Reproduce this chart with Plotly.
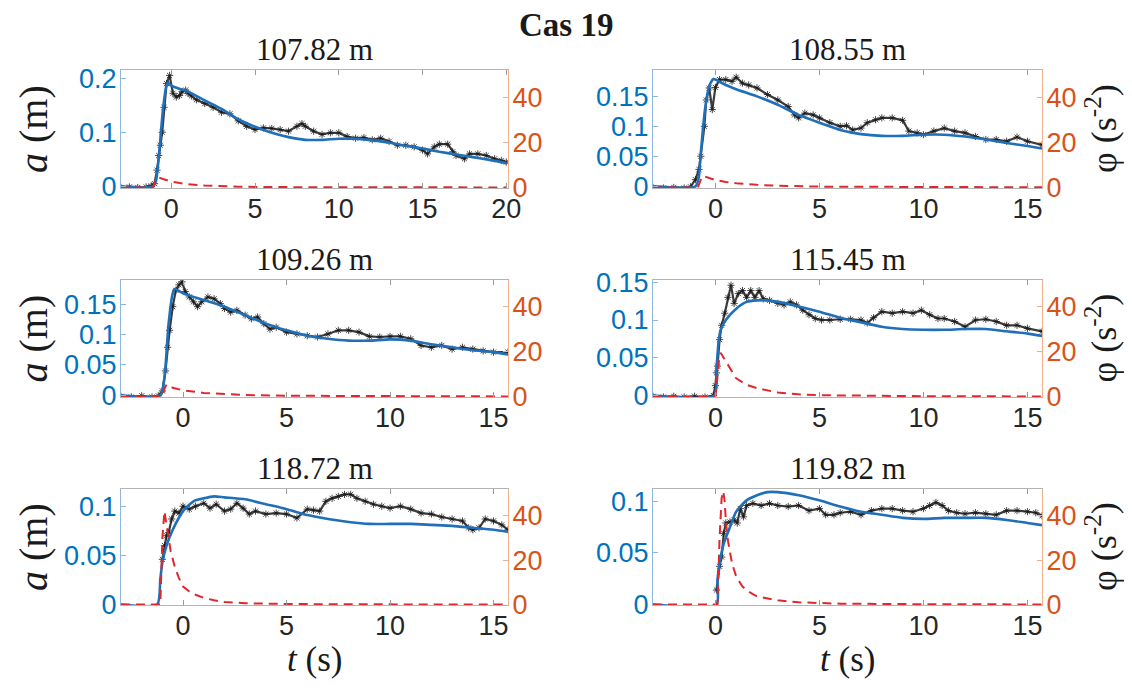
import plotly.graph_objects as go

W, H = 1132, 688
OFF = 8  # page body margin of the html page
FW, FH = W - OFF, H - OFF

titles = ["107.82 m", "108.55 m", "109.26 m", "115.45 m", "118.72 m", "119.82 m"]
main_title = "Cas 19"
x_ticks_1 = [0, 5, 10, 15, 20]
x_ticks = [0, 5, 10, 15]
phi_ticks = [0, 20, 40]

# ---------------- Panel 1 : 107.82 m ----------------
t_obs_1 = [-3, -2.5, -2, -1.5, -1.2, -1.0, -0.85, -0.75, -0.65, -0.54, -0.43, -0.28, -0.1, 0.1, 0.3, 0.5,
           0.65, 0.86, 1.0, 1.2, 1.5, 2, 2.5, 3, 3.5, 4, 4.5, 5, 5.5, 6, 6.5, 7, 7.5, 7.8, 8, 8.5, 9, 9.5,
           10, 10.5, 11, 11.5, 12, 12.5, 13, 13.5, 14, 14.5, 15, 15.3, 15.7, 16, 16.5, 16.8, 17, 17.5,
           17.8, 18.3, 18.8, 19.3, 19.7, 20]
a_obs_1 = [-0.002, -0.001, -0.002, -0.001, 0.001, 0.005, 0.03, 0.057, 0.076, 0.10, 0.146, 0.19, 0.205,
           0.172, 0.165, 0.168, 0.175, 0.178, 0.172, 0.167, 0.16, 0.153, 0.146, 0.137, 0.134, 0.121, 0.111,
           0.105, 0.108, 0.107, 0.105, 0.102, 0.111, 0.116, 0.111, 0.102, 0.096, 0.099, 0.099, 0.092, 0.089,
           0.09, 0.086, 0.089, 0.083, 0.076, 0.076, 0.073, 0.067, 0.06, 0.073, 0.078, 0.078, 0.064, 0.057,
           0.051, 0.06, 0.06, 0.057, 0.051, 0.048, 0.045]
t_fit_1 = [-3, -1.1, -0.9, -0.7, -0.5, -0.3, -0.2, 0, 0.5, 1, 2, 3, 4, 5, 6, 7, 8, 9, 10, 11, 12, 13, 14,
           15, 16, 17, 18, 19, 20]
a_fit_1 = [0, 0, 0.012, 0.07, 0.14, 0.185, 0.192, 0.186, 0.18, 0.175, 0.159, 0.143, 0.124, 0.11, 0.099,
           0.091, 0.086, 0.086, 0.088, 0.088, 0.085, 0.081, 0.075, 0.07, 0.064, 0.059, 0.054, 0.049, 0.043]
t_phi_1 = [-3, -1.1, -0.95, -0.8, -0.5, 0, 0.5, 1, 2, 3, 4, 6, 10, 15, 20]
phi_1 = [0, 0, 3.0, 4.6, 3.8, 2.6, 2.0, 1.5, 0.9, 0.6, 0.4, 0.2, 0.1, 0.06, 0.05]

# ---------------- Panel 2 : 108.55 m ----------------
t_obs_2 = [-3, -2.5, -2, -1.5, -1.2, -0.96, -0.79, -0.7, -0.53, -0.44, -0.3, -0.15, 0, 0.2, 0.5, 0.8, 1.0,
           1.3, 1.6, 2, 2.5, 3, 3.5, 3.8, 4, 4.3, 4.7, 5, 5.5, 6, 6.3, 6.6, 7, 7.3, 7.7, 8, 8.5, 9, 9.3,
           9.7, 10, 10.5, 11, 11.5, 12, 12.5, 13, 13.5, 14, 14.5, 15, 15.7]
a_obs_2 = [-0.002, -0.003, -0.002, -0.003, -0.001, 0.011, 0.028, 0.05, 0.1, 0.144, 0.164, 0.128, 0.165,
           0.178, 0.178, 0.175, 0.182, 0.172, 0.169, 0.164, 0.153, 0.144, 0.133, 0.119, 0.114, 0.122, 0.119,
           0.114, 0.106, 0.1, 0.101, 0.094, 0.097, 0.106, 0.111, 0.114, 0.114, 0.11, 0.092, 0.089, 0.086,
           0.092, 0.097, 0.092, 0.089, 0.083, 0.078, 0.078, 0.075, 0.082, 0.075, 0.069]
t_fit_2 = [-3, -0.95, -0.8, -0.7, -0.5, -0.3, -0.1, 0, 0.5, 1, 2, 3, 4, 5, 6, 7, 8, 9, 10, 11, 12, 13, 14,
           15, 15.7]
a_fit_2 = [0, 0, 0.015, 0.056, 0.128, 0.167, 0.179, 0.178, 0.169, 0.162, 0.15, 0.136, 0.119, 0.106, 0.094,
           0.087, 0.084, 0.084, 0.086, 0.086, 0.083, 0.078, 0.072, 0.067, 0.063]
t_phi_2 = [-3, -0.85, -0.7, -0.6, -0.3, 0, 0.5, 1, 2, 3, 5, 10, 15.7]
phi_2 = [0, 0, 3.5, 5.2, 4.2, 3.3, 2.5, 1.9, 1.2, 0.8, 0.4, 0.15, 0.1]

# ---------------- Panel 3 : 109.26 m ----------------
t_obs_3 = [-3, -2.5, -2, -1.5, -1.2, -1.0, -0.85, -0.75, -0.65, -0.5, -0.35, -0.2, -0.05, 0.1, 0.3, 0.5,
           0.7, 0.9, 1.2, 1.5, 1.8, 2, 2.3, 2.6, 3, 3.3, 3.6, 3.9, 4.2, 4.5, 5, 5.5, 6, 6.5, 7, 7.5, 8, 8.5,
           9, 9.5, 10, 10.5, 11, 11.5, 12, 12.5, 13, 13.5, 14, 14.5, 15, 15.7]
a_obs_3 = [-0.002, -0.003, -0.001, -0.003, -0.001, 0.007, 0.04, 0.079, 0.107, 0.146, 0.173, 0.182, 0.187,
           0.171, 0.162, 0.154, 0.146, 0.154, 0.162, 0.159, 0.151, 0.143, 0.137, 0.14, 0.132, 0.126, 0.129,
           0.118, 0.109, 0.112, 0.104, 0.101, 0.098, 0.096, 0.101, 0.107, 0.107, 0.104, 0.097, 0.096, 0.097,
           0.097, 0.093, 0.082, 0.079, 0.082, 0.076, 0.079, 0.076, 0.073, 0.071, 0.071]
t_fit_3 = [-3, -1.1, -0.9, -0.7, -0.5, -0.4, 0, 1, 2, 3, 4, 5, 6, 7, 8, 9, 10, 11, 12, 13, 14, 15, 15.7]
a_fit_3 = [0, 0, 0.029, 0.118, 0.168, 0.175, 0.168, 0.157, 0.146, 0.132, 0.118, 0.107, 0.098, 0.093, 0.09,
           0.09, 0.092, 0.09, 0.084, 0.079, 0.074, 0.071, 0.067]
t_phi_3 = [-3, -1.0, -0.9, -0.8, -0.5, 0, 1, 2, 3, 5, 10, 15.7]
phi_3 = [0, 0, 3.5, 5.4, 3.9, 2.8, 1.6, 1.0, 0.7, 0.35, 0.1, 0.05]

# ---------------- Panel 4 : 115.45 m ----------------
t_obs_4 = [-3, -2.5, -2, -1.5, -1, -0.5, -0.1, 0, 0.05, 0.1, 0.2, 0.3, 0.45, 0.6, 0.75, 0.9, 1.1, 1.3, 1.5,
           1.7, 1.9, 2.1, 2.3, 2.6, 3, 3.3, 3.6, 3.9, 4.2, 4.5, 4.8, 5.1, 5.5, 6, 6.5, 7, 7.3, 7.6, 8, 8.5,
           9, 9.5, 9.9, 10.3, 10.7, 11, 11.5, 12, 12.5, 13, 13.5, 14, 14.5, 15, 15.7]
a_obs_4 = [-0.001, -0.002, -0.001, -0.002, -0.001, -0.002, 0.0, 0.013, 0.03, 0.039, 0.074, 0.093, 0.109,
           0.13, 0.146, 0.122, 0.135, 0.139, 0.13, 0.139, 0.13, 0.139, 0.128, 0.126, 0.122, 0.12, 0.124,
           0.12, 0.113, 0.107, 0.102, 0.1, 0.1, 0.101, 0.101, 0.1, 0.096, 0.103, 0.111, 0.109, 0.111, 0.109,
           0.113, 0.107, 0.102, 0.102, 0.098, 0.091, 0.1, 0.101, 0.098, 0.093, 0.093, 0.089, 0.085]
t_fit_4 = [-3, -0.05, 0.05, 0.15, 0.25, 0.5, 1, 1.5, 2, 2.5, 3, 4, 5, 6, 7, 8, 9, 10, 11, 12, 13, 14, 15,
           15.7]
a_fit_4 = [0, 0, 0.035, 0.07, 0.087, 0.1, 0.115, 0.124, 0.126, 0.126, 0.124, 0.118, 0.111, 0.103, 0.097,
           0.091, 0.088, 0.087, 0.087, 0.088, 0.088, 0.085, 0.082, 0.079]
t_phi_4 = [-3, 0.0, 0.1, 0.18, 0.25, 0.5, 0.8, 1, 1.5, 2, 3, 4, 5, 7, 10, 15.7]
phi_4 = [0, 0, 9, 17, 19.5, 15.6, 11.1, 8.1, 5.2, 3.7, 1.8, 1.0, 0.6, 0.3, 0.15, 0.05]

# ---------------- Panel 5 : 118.72 m ----------------
t_obs_5 = [-1.0, -0.9, -0.8, -0.7, -0.55, -0.4, -0.2, 0, 0.3, 0.6, 1, 1.3, 1.6, 2, 2.3, 2.6, 2.9, 3.2, 3.5,
           4, 4.5, 5, 5.5, 6, 6.3, 6.6, 6.9, 7.2, 7.5, 7.8, 8.1, 8.4, 8.8, 9.2, 9.6, 10, 10.5, 11, 11.5, 12,
           12.5, 13, 13.5, 13.8, 14, 14.3, 14.6, 15, 15.4, 15.7]
a_obs_5 = [0.046, 0.06, 0.07, 0.073, 0.087, 0.095, 0.093, 0.1, 0.097, 0.1, 0.103, 0.098, 0.102, 0.095,
           0.097, 0.103, 0.098, 0.092, 0.095, 0.092, 0.093, 0.092, 0.088, 0.097, 0.096, 0.095, 0.105, 0.108,
           0.11, 0.112, 0.112, 0.108, 0.105, 0.102, 0.1, 0.098, 0.1, 0.097, 0.093, 0.092, 0.089, 0.087,
           0.085, 0.078, 0.076, 0.078, 0.087, 0.085, 0.081, 0.076]
t_fit_5 = [-3, -1.25, -1.1, -1.0, -0.8, -0.5, 0, 0.5, 1, 1.5, 2, 3, 4, 5, 6, 7, 8, 9, 10, 11, 12, 13, 14,
           15, 15.7]
a_fit_5 = [0, 0, 0.026, 0.043, 0.06, 0.076, 0.095, 0.105, 0.108, 0.11, 0.109, 0.107, 0.102, 0.097, 0.091,
           0.087, 0.084, 0.082, 0.082, 0.082, 0.081, 0.08, 0.078, 0.076, 0.074]
t_phi_5 = [-3, -1.1, -1.0, -0.9, -0.8, -0.6, -0.4, -0.2, 0, 0.3, 0.6, 1, 1.5, 2, 3, 5, 8, 15.7]
phi_5 = [0, 0, 30, 42, 36, 24, 17, 11.9, 8.1, 5.9, 4.4, 3.0, 1.9, 1.2, 0.6, 0.25, 0.1, 0.03]

# ---------------- Panel 6 : 119.82 m ----------------
t_obs_6 = [0.05, 0.2, 0.3, 0.4, 0.5, 0.7, 0.9, 1.05, 1.2, 1.35, 1.5, 1.8, 2.2, 2.6, 3, 3.5, 4, 4.5, 5, 5.3,
           5.7, 6, 6.5, 7, 7.5, 8, 8.5, 9, 9.5, 10, 10.3, 10.6, 10.9, 11.2, 11.6, 12, 12.5, 13, 13.5, 14,
           14.5, 15, 15.4, 15.7]
a_obs_6 = [0.014, 0.037, 0.046, 0.069, 0.079, 0.08, 0.082, 0.079, 0.093, 0.085, 0.096, 0.098, 0.096, 0.098,
           0.096, 0.095, 0.096, 0.091, 0.093, 0.087, 0.087, 0.089, 0.09, 0.087, 0.091, 0.093, 0.093, 0.091,
           0.09, 0.093, 0.096, 0.099, 0.096, 0.091, 0.089, 0.088, 0.089, 0.088, 0.087, 0.091, 0.091, 0.09,
           0.089, 0.086]
t_fit_6 = [-3, 0.05, 0.1, 0.2, 0.4, 0.7, 1, 1.5, 2, 2.5, 3, 4, 5, 6, 7, 8, 9, 10, 11, 12, 13, 14, 15, 15.7]
a_fit_6 = [0, 0, 0.024, 0.04, 0.059, 0.075, 0.09, 0.101, 0.106, 0.109, 0.109, 0.106, 0.101, 0.095, 0.09,
           0.087, 0.084, 0.083, 0.084, 0.084, 0.084, 0.082, 0.079, 0.077]
t_phi_6 = [-3, 0.1, 0.2, 0.3, 0.38, 0.45, 0.5, 0.6, 0.8, 1, 1.3, 1.7, 2, 3, 4, 6, 10, 15.7]
phi_6 = [0, 0, 30, 48, 51, 46, 37.8, 28.9, 18.5, 12.6, 8.1, 5.2, 3.7, 1.9, 1.0, 0.4, 0.15, 0.05]

panels = [
    (t_obs_1, a_obs_1, t_fit_1, a_fit_1, t_phi_1, phi_1),
    (t_obs_2, a_obs_2, t_fit_2, a_fit_2, t_phi_2, phi_2),
    (t_obs_3, a_obs_3, t_fit_3, a_fit_3, t_phi_3, phi_3),
    (t_obs_4, a_obs_4, t_fit_4, a_fit_4, t_phi_4, phi_4),
    (t_obs_5, a_obs_5, t_fit_5, a_fit_5, t_phi_5, phi_5),
    (t_obs_6, a_obs_6, t_fit_6, a_fit_6, t_phi_6, phi_6),
]

x_ranges = [[-3, 20.1], [-3, 15.7], [-3, 15.7], [-3, 15.7], [-3, 15.7], [-3, 15.7]]
a_ranges = [[-0.003, 0.215], [-0.003, 0.194], [-0.003, 0.19], [-0.002, 0.153], [-0.0005, 0.1175],
            [-0.0005, 0.112]]
a_ticks = [[0, 0.1, 0.2], [0, 0.05, 0.1, 0.15], [0, 0.05, 0.1, 0.15], [0, 0.05, 0.1, 0.15],
           [0, 0.05, 0.1], [0, 0.05, 0.1]]
phi_range = [-0.2, 52]

# layout geometry (pixels in the 1132x688 screenshot)
col_px = [(121, 508), (653, 1042)]
row_px = [(70, 188), (280, 397), (489, 605)]


def px_x(p):
    return (p - OFF) / FW


def px_y(p):
    return 1 - (p - OFF) / FH


BLUE = "#0072BD"
ORANGE = "#D95319"
SANS = "Liberation Sans, Arial, sans-serif"
SERIF = "Liberation Serif, Times New Roman, serif"

fig = go.Figure()
layout = dict(
    width=FW, height=FH, margin=dict(l=0, r=0, t=0, b=0),
    paper_bgcolor="white", plot_bgcolor="white", showlegend=False,
)
annotations = []

for i in range(6):
    k = i + 1
    r, c = divmod(i, 2)
    x0, x1 = col_px[c]
    y0, y1 = row_px[r]
    xd = [px_x(x0), px_x(x1)]
    yd = [px_y(y1), px_y(y0)]
    xa = "x" if k == 1 else f"x{k}"
    ya = "y" if k == 1 else f"y{k}"
    ya2 = f"y{k + 6}"
    t_obs, a_obs, t_fit, a_fit, t_phi, phi = panels[i]

    fig.add_trace(go.Scatter(
        x=t_obs, y=a_obs, xaxis=xa, yaxis=ya, mode="lines+markers",
        line=dict(color="rgba(25,25,25,0.85)", width=2.2),
        marker=dict(symbol="asterisk-open", size=6, color="rgba(25,25,25,0.8)",
                    line=dict(width=1, color="rgba(25,25,25,0.8)")),
    ))
    fig.add_trace(go.Scatter(
        x=t_fit, y=a_fit, xaxis=xa, yaxis=ya, mode="lines",
        line=dict(color="#1f6fba", width=2.6, shape="spline", smoothing=0.6),
    ))
    fig.add_trace(go.Scatter(
        x=t_phi, y=phi, xaxis=xa, yaxis=ya2, mode="lines",
        line=dict(color="#e0282c", width=2, dash="9px,6px"),
    ))

    layout[f"xaxis{k}"] = dict(
        domain=xd, range=x_ranges[i], anchor=ya,
        tickmode="array", tickvals=x_ticks_1 if k == 1 else x_ticks,
        ticks="inside", ticklen=5, tickcolor="#9a9a9a", tickwidth=1,
        showline=True, linecolor="#b4b4b4", linewidth=1, mirror="ticks",
        showgrid=False, zeroline=False, automargin=False, ticklabelstandoff=-3,
        tickfont=dict(family=SANS, size=27, color="#262626"),
    )
    layout[f"yaxis{k}"] = dict(
        domain=yd, range=a_ranges[i], anchor=xa, side="left",
        tickmode="array", tickvals=a_ticks[i],
        ticks="inside", ticklen=5, tickcolor="#8db7dd", tickwidth=1,
        showline=True, linecolor="#8db7dd", linewidth=1,
        showgrid=False, zeroline=False, automargin=False, ticklabelstandoff=-2,
        tickfont=dict(family=SANS, size=27, color=BLUE),
    )
    layout[f"yaxis{k + 6}"] = dict(
        overlaying=ya, range=phi_range, anchor=xa, side="right",
        tickmode="array", tickvals=phi_ticks,
        ticks="inside", ticklen=5, tickcolor="#efb08e", tickwidth=1,
        showline=True, linecolor="#efb08e", linewidth=1,
        showgrid=False, zeroline=False, automargin=False, ticklabelstandoff=-2,
        tickfont=dict(family=SANS, size=27, color=ORANGE),
    )

    # panel title
    annotations.append(dict(
        text=titles[i], x=px_x((x0 + x1) / 2), y=px_y(y0 - 21), xref="paper", yref="paper",
        xanchor="center", yanchor="middle", showarrow=False,
        font=dict(family=SERIF, size=31, color="#1a1a1a"),
    ))
    yc = px_y((y0 + y1) / 2)
    if c == 0:
        annotations.append(dict(
            text="<i>a</i> (m)", x=px_x(33), y=yc, xref="paper", yref="paper",
            xanchor="center", yanchor="middle", textangle=-90, showarrow=False,
            font=dict(family=SERIF, size=40, color="#1a1a1a"),
        ))
    else:
        annotations.append(dict(
            text="φ (s<sup>-2</sup>)", x=px_x(1101), y=yc, xref="paper", yref="paper",
            xanchor="center", yanchor="middle", textangle=-90, showarrow=False,
            font=dict(family=SERIF, size=36, color="#1a1a1a"),
        ))
    if r == 2:
        annotations.append(dict(
            text="<i>t</i> (s)", x=px_x((x0 + x1) / 2), y=px_y(659), xref="paper", yref="paper",
            xanchor="center", yanchor="middle", showarrow=False,
            font=dict(family=SERIF, size=35, color="#1a1a1a"),
        ))

annotations.append(dict(
    text="<b>" + main_title + "</b>", x=px_x(W / 2), y=px_y(25), xref="paper", yref="paper",
    xanchor="center", yanchor="middle", showarrow=False,
    font=dict(family=SERIF, size=33, color="#1a1a1a"),
))
layout["annotations"] = annotations
fig.update_layout(**layout)
fig.write_html("out.html")
